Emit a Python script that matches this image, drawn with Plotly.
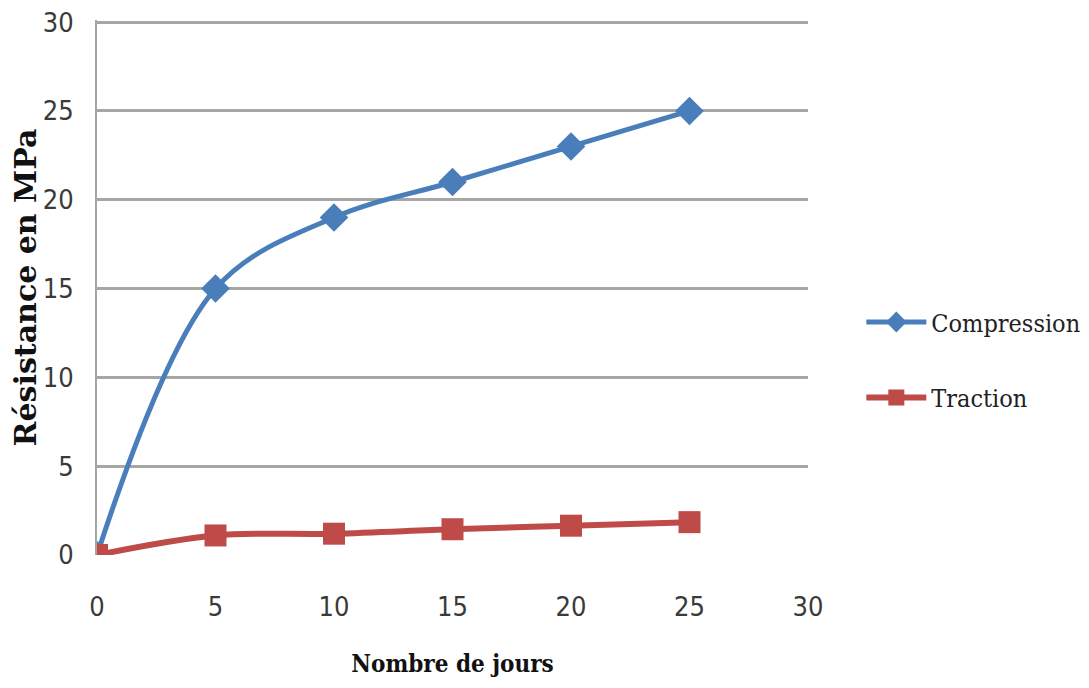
import plotly.graph_objects as go

jours = [0, 5, 10, 15, 20, 25]
compression = [0, 15, 19, 21, 23, 25]
traction = [0, 1.1, 1.2, 1.45, 1.65, 1.85]
x_ticks = [0, 5, 10, 15, 20, 25, 30]
y_ticks = [0, 5, 10, 15, 20, 25, 30]

fig = go.Figure()
fig.add_trace(go.Scatter(
    x=jours, y=compression, name="Compression", mode="lines+markers",
    line=dict(color="#4a7ebb", width=5, shape="spline", smoothing=1.0),
    marker=dict(symbol="diamond", size=22, color="#4a7ebb"),
    legendgroup="c",
))
fig.add_trace(go.Scatter(
    x=jours, y=traction, name="Traction", mode="lines+markers",
    line=dict(color="#be4b48", width=6, shape="spline", smoothing=1.0),
    marker=dict(symbol="square", size=22, color="#be4b48"),
    legendgroup="t",
))

tick_font = dict(family="DejaVu Sans Condensed, Liberation Sans Narrow, sans-serif", size=27, color="#3a3a3a")

fig.update_layout(
    width=1089, height=688,
    margin=dict(l=89, r=287, t=12, b=141),
    paper_bgcolor="white", plot_bgcolor="white",
    showlegend=True,
    legend=dict(
        x=1.075, y=0.365, xanchor="left", yanchor="middle",
        font=dict(family="DejaVu Serif Condensed, Liberation Serif, serif", size=25, color="#222222"),
        tracegroupgap=40, itemwidth=60,
    ),
    xaxis=dict(
        range=[0, 30], tickvals=x_ticks, showgrid=False, zeroline=False,
        showline=False, ticks="", tickfont=tick_font, ticklabelstandoff=33,
        automargin=False, ticklabeloverflow="allow",
        title=dict(text="<b>Nombre de jours</b>",
                   font=dict(family="DejaVu Serif Condensed, Liberation Serif, serif", size=24, color="#111111"),
                   standoff=34),
    ),
    yaxis=dict(
        range=[0, 30.12], tickvals=y_ticks, showgrid=True, gridcolor="#a6a6a6", gridwidth=3,
        zeroline=False, showline=True, linecolor="#a6a6a6", linewidth=2,
        ticks="", tickfont=tick_font, ticklabelstandoff=16,
        automargin=False, ticklabeloverflow="allow",
        title=dict(text="<b>Résistance en MPa</b>",
                   font=dict(family="DejaVu Serif, serif", size=30, color="#111111"),
                   standoff=14),
    ),
)

fig.write_html("out.html")
